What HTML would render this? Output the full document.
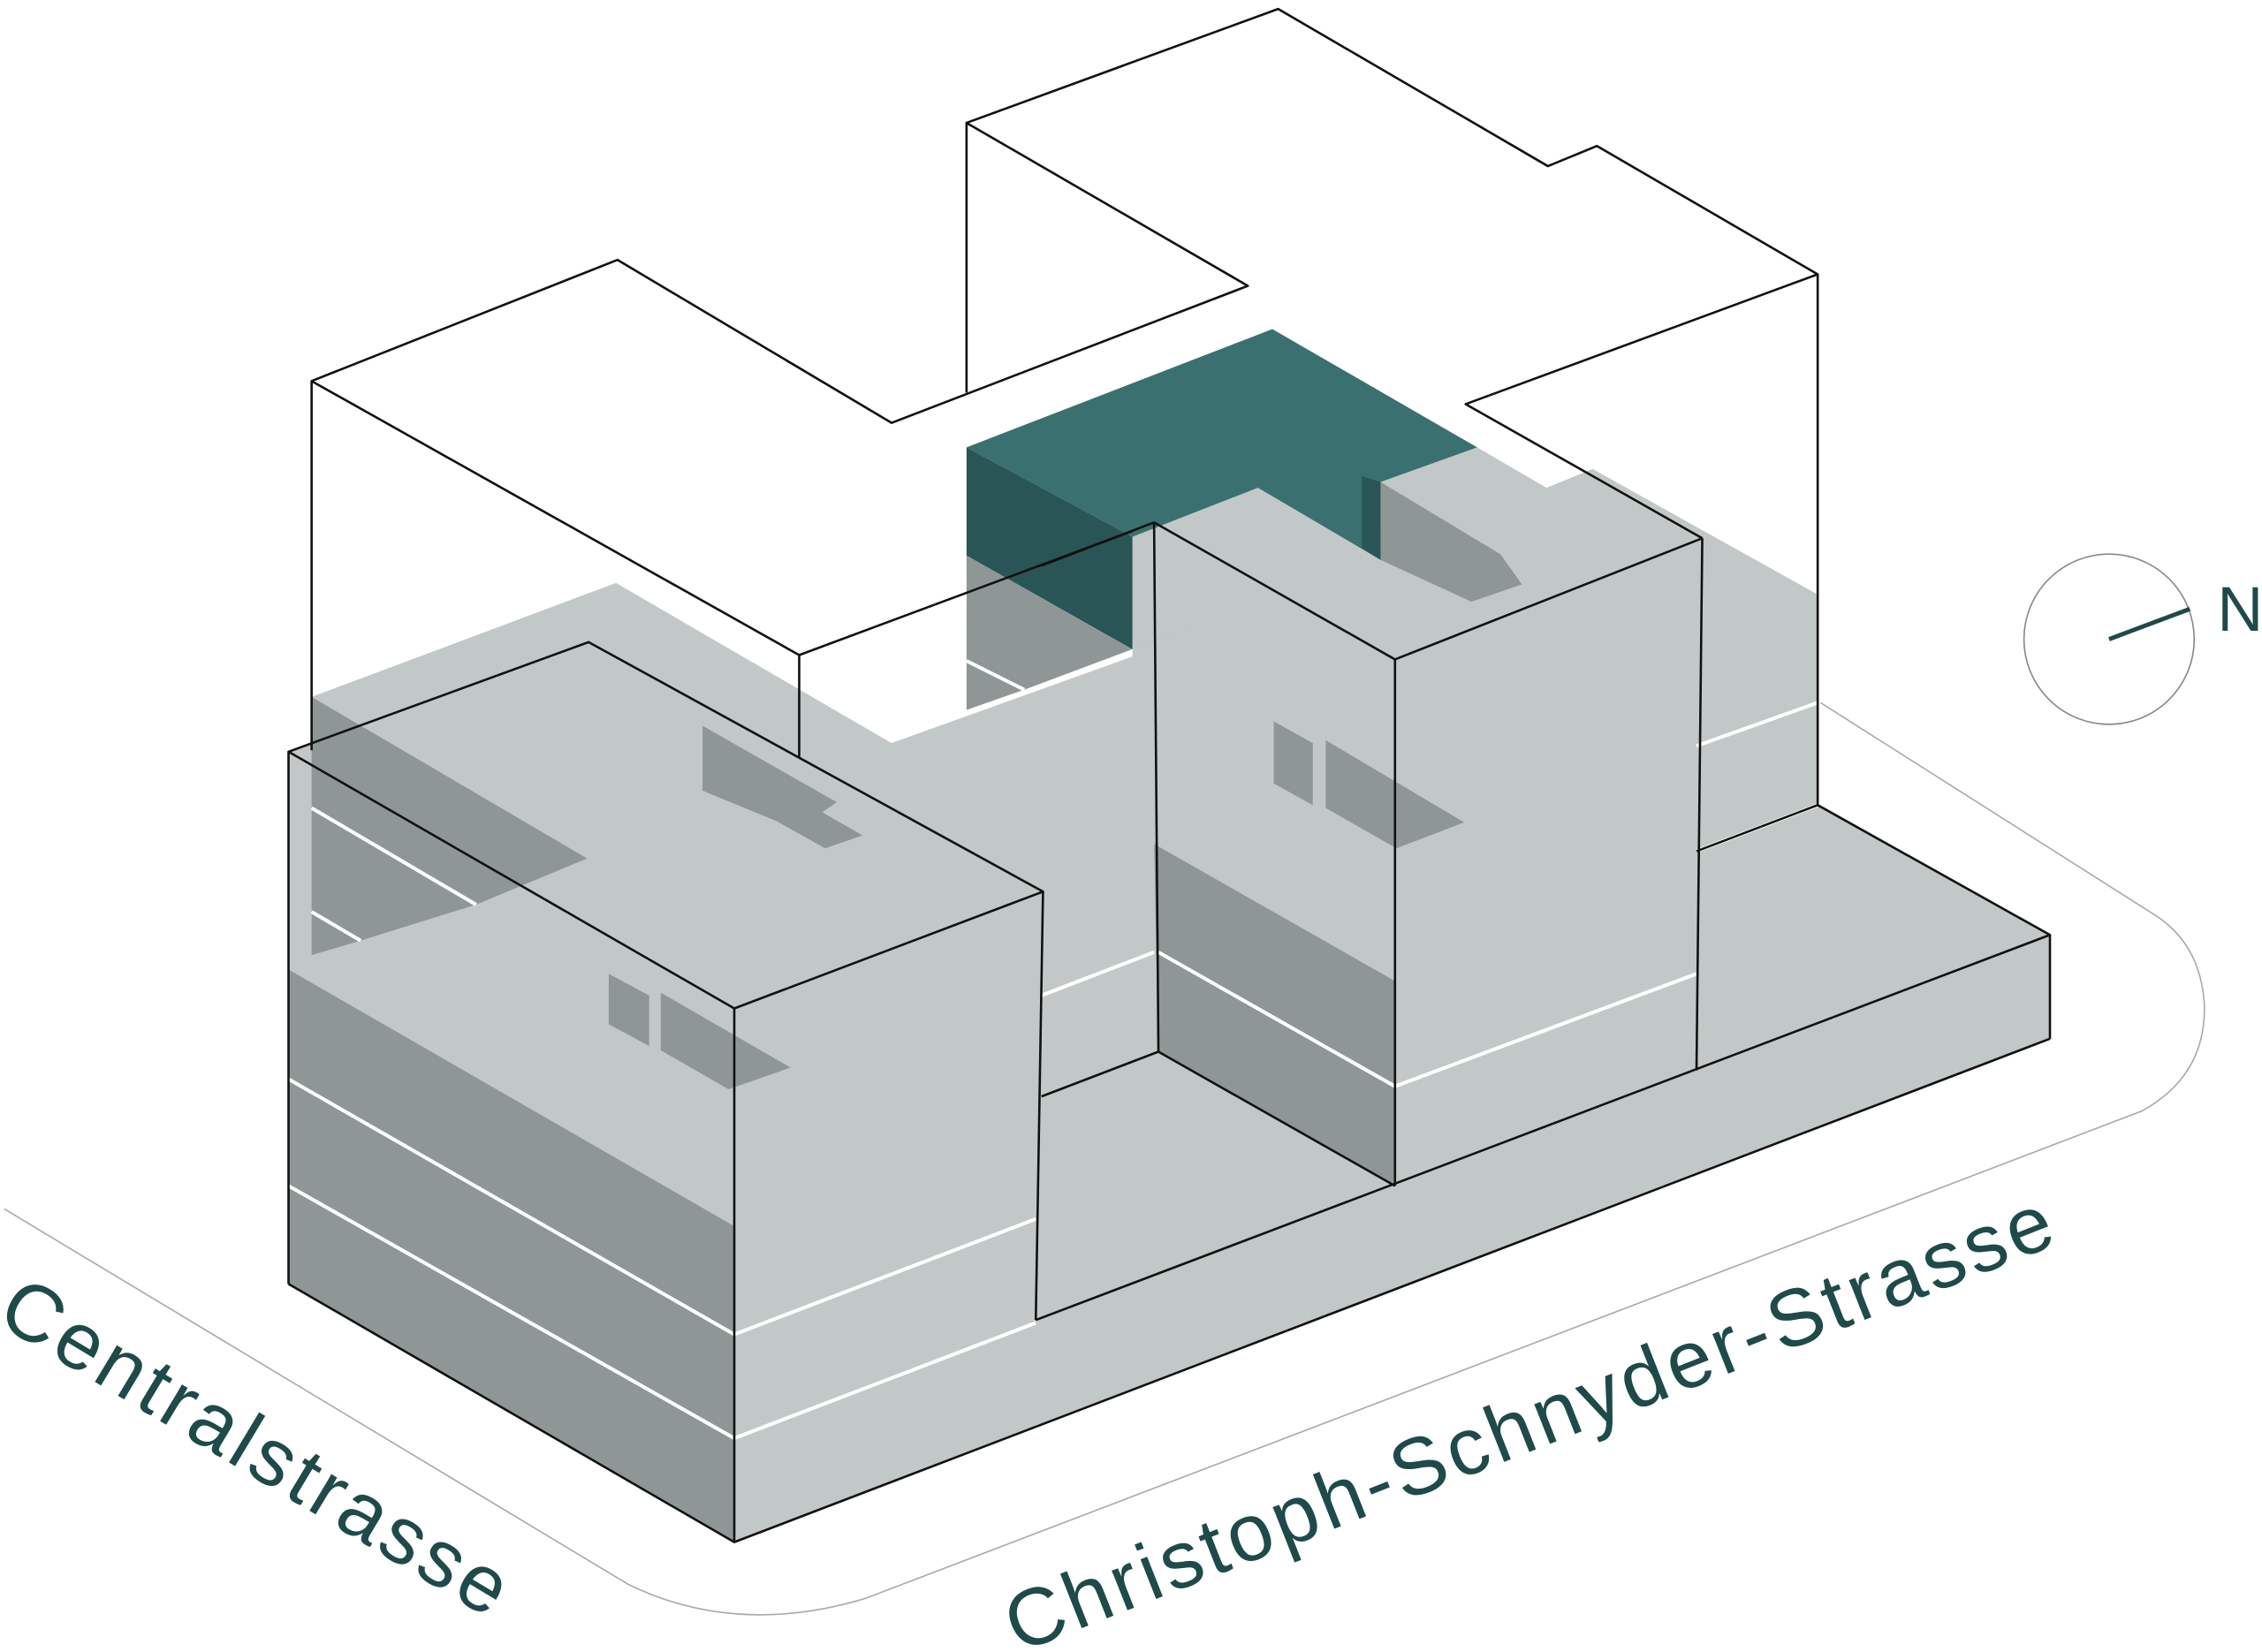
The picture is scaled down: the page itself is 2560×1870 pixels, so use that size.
<!DOCTYPE html>
<html><head><meta charset="utf-8"><style>
html,body{margin:0;padding:0;background:#fff;}
svg{display:block;}
text{font-family:"Liberation Sans",sans-serif;fill:#1f4a4a;}
</style></head><body>
<svg width="2560" height="1870" viewBox="0 0 1568 1145" xmlns="http://www.w3.org/2000/svg">
<rect width="1568" height="1145" fill="#fff"/>
<path d="M3,838 L435,1098 Q510,1135 600,1108 L1485,770 Q1530,745 1528,695 Q1525,655 1495,635 L1262,487" fill="none" stroke="#aaa" stroke-width="1"/>
<text x="0" y="0" font-size="56" textLength="400" lengthAdjust="spacing" transform="translate(-4,916) rotate(31)">Centralstrasse</text>
<text x="0" y="0" font-size="56" textLength="775" lengthAdjust="spacing" transform="translate(706,1146) rotate(-21.5)">Christoph-Schnyder-Strasse</text>
<circle cx="1462" cy="443" r="59" fill="none" stroke="#888" stroke-width="1"/>
<line x1="1462" y1="443" x2="1518" y2="422" stroke="#1f4a4a" stroke-width="3"/>
<text x="1537" y="437" font-size="44">N</text>

<polygon points="216,483 427,404 618,515 785,455 785,372 872,338 957,388 957,334 1024,310 1072,338 1104,325 1260,412 1260,558 1421,648 1421,720 509,1069 200,890 200,521 216,515" fill="#c2c8c7"/>
<polygon points="670,310 882,228 1024,310 957,334 957,388 872,338 785,372" fill="#3a7070"/>
<polygon points="670,310 785,372 785,450 670,385" fill="#2a5556"/>
<polygon points="944,330 957,334 957,388 944,380" fill="#2a5556"/>
<polygon points="216,483 407,595 330,627 250,652 216,662" fill="#8f9696"/>
<polygon points="670,385 785,450 865,420 710,478 670,492" fill="#8f9696"/>
<polygon points="957,334 1040,384 1055,405 1020,417 957,388" fill="#8f9696"/>
<polygon points="200,672 509,850 509,1069 200,890" fill="#8f9696"/>
<polygon points="800,585 967,680 967,822 803,729" fill="#8f9696"/>
<polygon points="487,503 580,556 570,563 598,579 572,588 538,569 487,548" fill="#8f9696"/>
<polygon points="883,500 910,515 910,558 883,543" fill="#8f9696"/>
<polygon points="919,513 1015,570 968,588 919,560" fill="#8f9696"/>
<polygon points="422,675 450,690 450,725 422,710" fill="#8f9696"/>
<polygon points="458,688 548,740 505,755 458,728" fill="#8f9696"/>
<g stroke="#fff" stroke-width="2.5" fill="none">
<line x1="200" y1="748" x2="509" y2="925"/>
<line x1="200" y1="822" x2="509" y2="997"/>
<line x1="509" y1="925" x2="718" y2="845"/>
<line x1="509" y1="997" x2="718" y2="917"/>
<line x1="803" y1="660" x2="967" y2="753"/>
<line x1="967" y1="753" x2="1176" y2="675"/>
<line x1="1176" y1="517" x2="1260" y2="487"/>
<line x1="1176" y1="590" x2="1260" y2="558"/>
<line x1="722" y1="690" x2="800" y2="660"/>
<line x1="216" y1="560" x2="330" y2="627"/>
<line x1="216" y1="632" x2="250" y2="652"/>
<line x1="670" y1="458" x2="710" y2="478"/>
</g>
<g stroke="#111" stroke-width="1.6" fill="none" stroke-linejoin="round">
<polyline points="216,520 216,264 428,180 618,293 865,198 670,85 886,6 1073,115 1107,101 1260,190 1016,280 1180,373"/>
<polyline points="216,264 554,454 554,525"/>
<polyline points="554,454 785,368"/>
<line x1="670" y1="85" x2="670" y2="272"/>
<polyline points="1260,190 1260,558 1421,648 1421,720"/>
<line x1="1260" y1="558" x2="1176" y2="590"/>
<polygon points="200,521 408,445 723,618 509,699"/>
<line x1="200" y1="521" x2="200" y2="890"/>
<line x1="509" y1="699" x2="509" y2="1069"/>
<line x1="723" y1="618" x2="718" y2="915"/>
<polyline points="200,890 509,1069 1421,720"/>
<line x1="718" y1="915" x2="1421" y2="648"/>
<polyline points="800,362 967,457 1180,373"/>
<line x1="800" y1="362" x2="722" y2="392"/>
<line x1="800" y1="362" x2="803" y2="729"/>
<line x1="967" y1="457" x2="967" y2="822"/>
<line x1="1180" y1="373" x2="1176" y2="742"/>
<polyline points="722,760 803,729 967,822"/>
</g>
</svg>
</body></html>
